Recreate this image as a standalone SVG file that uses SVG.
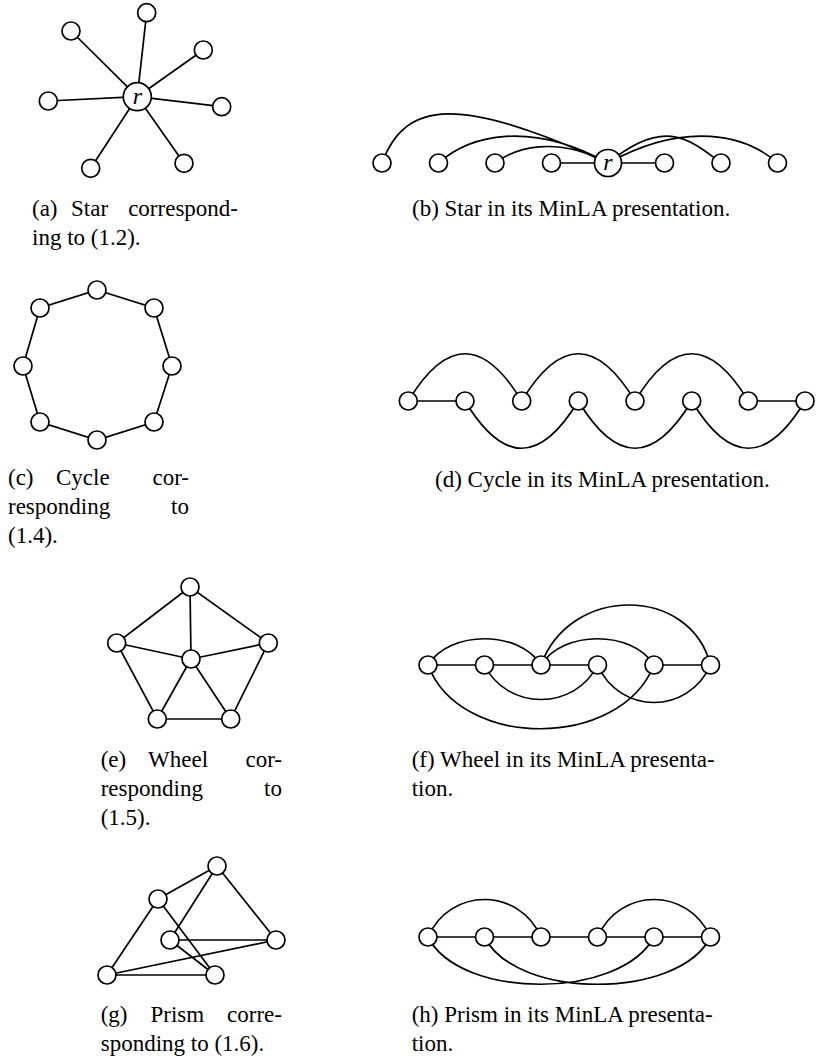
<svg xmlns="http://www.w3.org/2000/svg" width="819" height="1063" viewBox="0 0 819 1063">
<style>
.e{fill:none;stroke:#000;stroke-width:1.7}
.n{fill:#fff;stroke:#000;stroke-width:1.7}
.t{font-family:"Liberation Serif",serif;font-size:23px;fill:#000}
.r{font-family:"Liberation Serif",serif;font-size:24px;font-style:italic;fill:#000}
</style>
<rect width="819" height="1063" fill="#fff"/>
<g id="connectors">
<path class="e" d="M137.3,96.7L146.7,12.7M137.3,96.7L71,31M137.3,96.7L203.3,50M137.3,96.7L48.3,101M137.3,96.7L221.7,106.7M137.3,96.7L90.7,168.3M137.3,96.7L184,163.3"/>
<path class="e" d="M382,163C405,100 460,95 608,163M438.5,163C470,135 530,120 608,163M495,163C515,148 555,135 608,163M551.5,163L664.5,163M608,163C661,120 686,135 721,163M608,163C686,120 746,135 777.5,163"/>
<path class="e" d="M97,290L154,308L172,366L154,422L97,440L40,422L23,366L40,308Z"/>
<path class="e" d="M408.3,401L465,401M748.3,401L805,401M408.3,401C446.3,338 483.7,338 521.7,401M521.7,401C559.7,338 597,338 635,401M635,401C673,338 710.3,338 748.3,401M465,401C503,464 540.3,464 578.3,401M578.3,401C616.3,464 653.7,464 691.7,401M691.7,401C729.7,464 767,464 805,401"/>
<path class="e" d="M190,587L116.7,643L157.3,719L230.7,719L268.3,643ZM190,587L191,659M116.7,643L191,659M268.3,643L191,659M157.3,719L191,659M230.7,719L191,659"/>
<path class="e" d="M428,665L597.5,665M654,665L710.5,665M428,665C450,630 519,630 541,665M541,665C563,630 632,630 654,665M541,665C570,585 690,585 710.5,665M484.5,665C507,711 575,711 597.5,665M597.5,665C620,715 688,715 710.5,665M428,665C460,750 620,750 654,665"/>
<path class="e" d="M217,866L158,899M217,866L170,940M217,866L276,940M158,899L107,975M158,899L215,975M170,940L276,940M107,975L215,975M107,975L276,940M170,940L215,975"/>
<path class="e" d="M428,937L710.5,937M428,937C450,887 519,887 541,937M597.5,937C620,887 688,887 710.5,937M428,937C460,1000 620,1000 654,937M484.5,937C516,1000 679,1000 710.5,937"/>
</g>
<g id="star">
<circle class="n" cx="146.7" cy="12.7" r="9"/><circle class="n" cx="71" cy="31" r="9"/><circle class="n" cx="203.3" cy="50" r="9"/><circle class="n" cx="48.3" cy="101" r="9"/><circle class="n" cx="221.7" cy="106.7" r="9"/><circle class="n" cx="90.7" cy="168.3" r="9"/><circle class="n" cx="184" cy="163.3" r="9"/>
<circle class="n" cx="137.3" cy="96.7" r="14"/><text class="r" x="137.3" y="104" text-anchor="middle">r</text>
</g>
<g id="star-minla">
<circle class="n" cx="382" cy="163" r="9"/><circle class="n" cx="438.5" cy="163" r="9"/><circle class="n" cx="495" cy="163" r="9"/><circle class="n" cx="551.5" cy="163" r="9"/><circle class="n" cx="664.5" cy="163" r="9"/><circle class="n" cx="721" cy="163" r="9"/><circle class="n" cx="777.5" cy="163" r="9"/>
<circle class="n" cx="608" cy="163" r="13.5"/><text class="r" x="608" y="170" text-anchor="middle">r</text>
</g>
<g id="cycle">
<circle class="n" cx="97" cy="290" r="9"/><circle class="n" cx="154" cy="308" r="9"/><circle class="n" cx="172" cy="366" r="9"/><circle class="n" cx="154" cy="422" r="9"/><circle class="n" cx="97" cy="440" r="9"/><circle class="n" cx="40" cy="422" r="9"/><circle class="n" cx="23" cy="366" r="9"/><circle class="n" cx="40" cy="308" r="9"/>
</g>
<g id="cycle-minla">
<circle class="n" cx="408.3" cy="401" r="9"/><circle class="n" cx="465" cy="401" r="9"/><circle class="n" cx="521.7" cy="401" r="9"/><circle class="n" cx="578.3" cy="401" r="9"/><circle class="n" cx="635" cy="401" r="9"/><circle class="n" cx="691.7" cy="401" r="9"/><circle class="n" cx="748.3" cy="401" r="9"/><circle class="n" cx="805" cy="401" r="9"/>
</g>
<g id="wheel">
<circle class="n" cx="190" cy="587" r="9"/><circle class="n" cx="116.7" cy="643" r="9"/><circle class="n" cx="268.3" cy="643" r="9"/><circle class="n" cx="191" cy="659" r="9"/><circle class="n" cx="157.3" cy="719" r="9"/><circle class="n" cx="230.7" cy="719" r="9"/>
</g>
<g id="wheel-minla">
<circle class="n" cx="428" cy="665" r="9"/><circle class="n" cx="484.5" cy="665" r="9"/><circle class="n" cx="541" cy="665" r="9"/><circle class="n" cx="597.5" cy="665" r="9"/><circle class="n" cx="654" cy="665" r="9"/><circle class="n" cx="710.5" cy="665" r="9"/>
</g>
<g id="prism">
<circle class="n" cx="217" cy="866" r="9"/><circle class="n" cx="158" cy="899" r="9"/><circle class="n" cx="170" cy="940" r="9"/><circle class="n" cx="276" cy="940" r="9"/><circle class="n" cx="107" cy="975" r="9"/><circle class="n" cx="215" cy="975" r="9"/>
</g>
<g id="prism-minla">
<circle class="n" cx="428" cy="937" r="9"/><circle class="n" cx="484.5" cy="937" r="9"/><circle class="n" cx="541" cy="937" r="9"/><circle class="n" cx="597.5" cy="937" r="9"/><circle class="n" cx="654" cy="937" r="9"/><circle class="n" cx="710.5" cy="937" r="9"/>
</g>
<g id="captions">
<text class="t" x="32" y="216">(a)</text><text class="t" x="71" y="216">Star</text><text class="t" x="238" y="216" text-anchor="end">correspond-</text>
<text class="t" x="32" y="245">ing to (1.2).</text>
<text class="t" x="412" y="216">(b) Star in its MinLA presentation.</text>
<text class="t" x="8" y="485">(c)</text><text class="t" x="56" y="485">Cycle</text><text class="t" x="189" y="485" text-anchor="end">cor-</text>
<text class="t" x="8" y="514">responding</text><text class="t" x="189" y="514" text-anchor="end">to</text>
<text class="t" x="8" y="543">(1.4).</text>
<text class="t" x="435" y="487">(d) Cycle in its MinLA presentation.</text>
<text class="t" x="100.7" y="767">(e)</text><text class="t" x="148" y="767">Wheel</text><text class="t" x="282" y="767" text-anchor="end">cor-</text>
<text class="t" x="100.7" y="796">responding</text><text class="t" x="282" y="796" text-anchor="end">to</text>
<text class="t" x="100.7" y="825">(1.5).</text>
<text class="t" x="411.7" y="767">(f) Wheel in its MinLA presenta-</text>
<text class="t" x="411.7" y="796">tion.</text>
<text class="t" x="100.7" y="1022">(g)</text><text class="t" x="150.5" y="1022">Prism</text><text class="t" x="282" y="1022" text-anchor="end">corre-</text>
<text class="t" x="100.7" y="1051">sponding to (1.6).</text>
<text class="t" x="411.7" y="1022">(h) Prism in its MinLA presenta-</text>
<text class="t" x="411.7" y="1051">tion.</text>
</g>
</svg>
